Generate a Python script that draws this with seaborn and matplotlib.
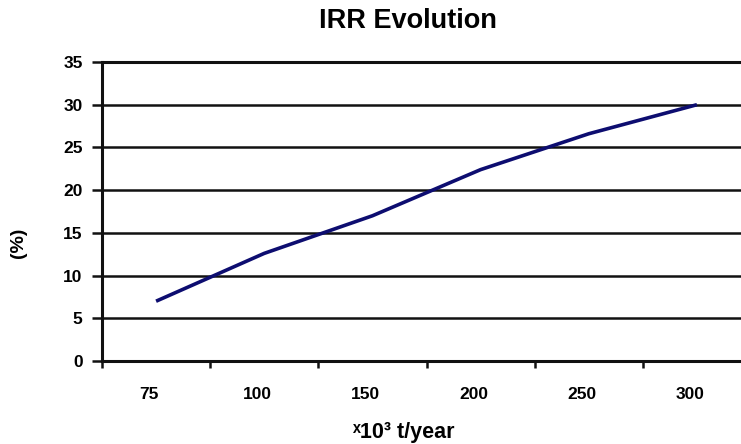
import matplotlib
matplotlib.use("Agg")
import matplotlib.pyplot as plt
import matplotlib.transforms as mtransforms
import pandas as pd
import seaborn as sns

# Data
capacity = ['75', '100', '150', '200', '250', '300']
irr = [7.0, 12.6, 17.0, 22.4, 26.6, 30.0]
y_ticks = [0, 5, 10, 15, 20, 25, 30, 35]

df = pd.DataFrame({'capacity': capacity, 'irr': irr})

sns.set_style('white')
plt.rcParams['font.family'] = ['Liberation Sans', 'DejaVu Sans']
plt.rcParams['font.weight'] = 'bold'
plt.rcParams['text.color'] = 'black'
plt.rcParams['xtick.color'] = 'black'
plt.rcParams['ytick.color'] = 'black'

fig = plt.figure(figsize=(7.41, 4.44), dpi=100)
# plot area runs past the right edge of the picture, like the reference
ax = fig.add_axes([102 / 741, 1 - 361 / 444, 649 / 741, 299 / 444])

ax.set_ylim(0, 35)
ax.set_xlim(-0.5, len(capacity) - 0.5)
ax.set_yticks(y_ticks)
ax.grid(axis='y', color='#111111', linewidth=1.8)
ax.set_axisbelow(True)

sns.lineplot(data=df, x='capacity', y='irr', ax=ax, color='#0d0d70',
             linewidth=2.6, sort=False, legend=False)
ax.lines[-1].set_solid_joinstyle('round')
ax.lines[-1].set_solid_capstyle('butt')

for side in ['left', 'bottom', 'top']:
    ax.spines[side].set_visible(True)
    ax.spines[side].set_color('#111111')
    ax.spines[side].set_linewidth(2.2)
ax.spines['right'].set_visible(False)

# category labels at centres, tick marks at category boundaries
ax.set_xticks(range(len(capacity)))
ax.set_xticklabels(capacity)
ax.set_xticks([i - 0.5 for i in range(len(capacity) + 1)], minor=True)
ax.tick_params(axis='x', which='major', length=0, pad=19, labelsize=12.5,
               labelcolor='black')
ax.tick_params(axis='x', which='minor', length=5, width=1.8, color='#111111',
               direction='out', bottom=True)
ax.tick_params(axis='y', which='major', length=7, width=1.8, color='#111111',
               direction='out', left=True, pad=7, labelsize=12.5,
               labelcolor='black')
offset = mtransforms.ScaledTranslation(-7 / 100, 0, fig.dpi_scale_trans)
for lab in ax.get_xticklabels():
    lab.set_transform(lab.get_transform() + offset)
    lab.set_fontweight('bold')
for lab in ax.get_yticklabels():
    lab.set_fontweight('bold')

ax.set_xlabel('')
ax.set_ylabel('')
fig.text(18 / 741, 1 - 243 / 444, '(%)', rotation=90, ha='center', va='center',
         fontsize=14, fontweight='bold', color='black')
fig.text(403 / 741, 1 - 432 / 444, 'ˣ10³ t/year', ha='center', va='center',
         fontsize=15.5, fontweight='bold', color='black')
fig.text(408 / 741, 1 - 21 / 444, 'IRR Evolution', ha='center', va='center',
         fontsize=19.5, fontweight='bold', color='black')

fig.savefig('out.png', dpi=100)
